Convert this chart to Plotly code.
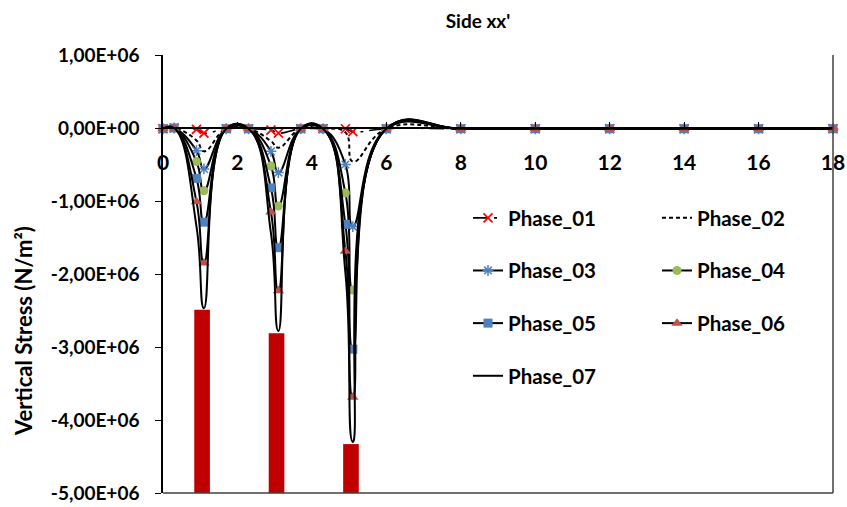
import plotly.graph_objects as go

# ---------------- data ----------------
x_pos = [0, 0.3, 0.9, 1.1, 1.7, 2.3, 2.9, 3.1, 3.7, 4.3, 4.9, 5.1, 6, 8, 10, 12, 14, 16, 18]

phase_01 = [-0.01e6, 0.0, -0.02e6, -0.07e6, -0.01e6, -0.01e6, -0.03e6, -0.07e6, -0.01e6, -0.01e6,
            -0.01e6, -0.05e6, -0.01e6, -0.01e6, -0.01e6, -0.01e6, -0.01e6, -0.01e6, -0.01e6]
phase_02 = [-0.01e6, 0.0, -0.17e6, -0.32e6, -0.01e6, -0.01e6, -0.18e6, -0.27e6, -0.01e6, -0.01e6,
            -0.06e6, -0.46e6, -0.01e6, -0.01e6, -0.01e6, -0.01e6, -0.01e6, -0.01e6, -0.01e6]
phase_03 = [-0.01e6, 0.0, -0.31e6, -0.56e6, -0.01e6, -0.01e6, -0.32e6, -0.61e6, -0.01e6, -0.01e6,
            -0.50e6, -1.35e6, -0.01e6, -0.01e6, -0.01e6, -0.01e6, -0.01e6, -0.01e6, -0.01e6]
phase_04 = [-0.01e6, 0.0, -0.46e6, -0.86e6, -0.01e6, -0.01e6, -0.52e6, -1.07e6, -0.01e6, -0.01e6,
            -0.89e6, -2.22e6, -0.01e6, -0.01e6, -0.01e6, -0.01e6, -0.01e6, -0.01e6, -0.01e6]
phase_05 = [-0.01e6, 0.0, -0.69e6, -1.29e6, -0.01e6, -0.01e6, -0.82e6, -1.64e6, -0.01e6, -0.01e6,
            -1.32e6, -3.03e6, -0.01e6, -0.01e6, -0.01e6, -0.01e6, -0.01e6, -0.01e6, -0.01e6]
phase_06 = [-0.01e6, 0.0, -1.01e6, -1.85e6, -0.01e6, -0.01e6, -1.15e6, -2.23e6, -0.01e6, -0.01e6,
            -1.69e6, -3.69e6, -0.01e6, -0.01e6, -0.01e6, -0.01e6, -0.01e6, -0.01e6, -0.01e6]
phase_07 = [-0.01e6, 0.0, -1.35e6, -2.47e6, -0.01e6, -0.01e6, -1.44e6, -2.78e6, -0.01e6, -0.01e6,
            -1.98e6, -4.30e6, -0.01e6, -0.01e6, -0.01e6, -0.01e6, -0.01e6, -0.01e6, -0.01e6]

load_x = [1.05, 3.05, 5.05]
load_top = [-2.49e6, -2.81e6, -4.33e6]

y_tick_vals = [1e6, 0, -1e6, -2e6, -3e6, -4e6, -5e6]
y_tick_text = ["1,00E+06", "0,00E+00", "-1,00E+06", "-2,00E+06", "-3,00E+06", "-4,00E+06", "-5,00E+06"]
x_tick_vals = [0, 2, 4, 6, 8, 10, 12, 14, 16, 18]

series_names = ["Phase_01", "Phase_02", "Phase_03", "Phase_04", "Phase_05", "Phase_06", "Phase_07"]
series_vals = [phase_01, phase_02, phase_03, phase_04, phase_05, phase_06, phase_07]

# ---------------- styles ----------------
FONT = "Lato"
y_min, y_max = min(y_tick_vals), max(y_tick_vals)

styles = [
    dict(line=dict(color="black", width=1.6, dash="longdashdot"),
         marker=dict(symbol="x-thin-open", size=9, color="#FF0000", line=dict(color="#FF0000", width=1.7)),
         mode="lines+markers", legend="legend"),
    dict(line=dict(color="black", width=2, dash="4px,3px"),
         marker=dict(size=1), mode="lines", legend="legend2"),
    dict(line=dict(color="black", width=2),
         marker=dict(symbol="asterisk-open", size=9, color="#4F81BD", line=dict(color="#4F81BD", width=1.5)),
         mode="lines+markers", legend="legend"),
    dict(line=dict(color="black", width=2),
         marker=dict(symbol="circle", size=9, color="#9BBB59", line=dict(width=0)),
         mode="lines+markers", legend="legend2"),
    dict(line=dict(color="black", width=2),
         marker=dict(symbol="square", size=9, color="#4F81BD", line=dict(width=0)),
         mode="lines+markers", legend="legend"),
    dict(line=dict(color="black", width=2),
         marker=dict(symbol="triangle-up", size=10, color="#C0504D", line=dict(width=0)),
         mode="lines+markers", legend="legend2"),
    dict(line=dict(color="black", width=2),
         marker=dict(size=1), mode="lines", legend="legend"),
]

fig = go.Figure()

fig.add_trace(go.Bar(
    x=load_x, y=[t - y_min for t in load_top], base=y_min, width=0.42,
    marker=dict(color="#C00000", line=dict(width=0)), showlegend=False, hoverinfo="skip"))

for name, vals, st in zip(series_names, series_vals, styles):
    fig.add_trace(go.Scatter(
        x=x_pos, y=vals, name=name, mode=st["mode"],
        line=dict(shape="spline", smoothing=1.3, **st["line"]),
        marker=st["marker"], legend=st["legend"], legendgroup=name,
        cliponaxis=False))

legend_font = dict(family=FONT, size=20.5, color="black", weight="bold")

fig.update_layout(
    width=847, height=507,
    margin=dict(l=163, r=14, t=55, b=14, autoexpand=False),
    paper_bgcolor="white", plot_bgcolor="white",
    showlegend=True,
    title=dict(text="Side xx'", x=478 / 847, xanchor="center", xref="container",
               y=1 - 21 / 507, yanchor="middle", yref="container",
               font=dict(family=FONT, size=19, color="black", weight="bold")),
    xaxis=dict(range=[0, 18], anchor="free", position=5 / 6, showline=True,
               linecolor="black", linewidth=1.5, ticks="inside", ticklen=5,
               tickcolor="black", tickwidth=1.2, tickvals=x_tick_vals,
               showgrid=False, zeroline=False, ticklabelstandoff=16,
               tickfont=dict(family=FONT, size=21, color="black", weight="bold"),
               automargin=False),
    yaxis=dict(range=[y_min, y_max], tickvals=y_tick_vals, ticktext=y_tick_text,
               showline=True, linecolor="black", linewidth=1.5, ticks="outside",
               ticklen=6, tickcolor="black", tickwidth=1.2, showgrid=False,
               zeroline=False, ticklabelstandoff=12,
               tickfont=dict(family=FONT, size=19, color="black", weight="bold"),
               automargin=False),
    legend=dict(x=(468 - 163) / 670, y=(493 - 198) / 438, xanchor="left", yanchor="top",
                bgcolor="rgba(0,0,0,0)", font=legend_font, tracegroupgap=23,
                itemwidth=30),
    legend2=dict(x=(657 - 163) / 670, y=(493 - 198) / 438, xanchor="left", yanchor="top",
                 bgcolor="rgba(0,0,0,0)", font=legend_font, tracegroupgap=23,
                 itemwidth=30),
    annotations=[dict(text="Vertical Stress (N/m²)", textangle=-90, x=(24 - 163) / 670,
                      y=0.37, xref="paper", yref="paper", showarrow=False,
                      xanchor="center", yanchor="middle",
                      font=dict(family=FONT, size=22, color="black", weight="bold"))],
    shapes=[
        dict(type="line", xref="paper", yref="paper", x0=1, x1=1, y0=0, y1=1,
             line=dict(color="#404040", width=1.5)),
        dict(type="line", xref="paper", yref="paper", x0=0, x1=1, y0=0, y1=0,
             line=dict(color="#404040", width=1.5)),
    ],
)

fig.write_html("out.html")
